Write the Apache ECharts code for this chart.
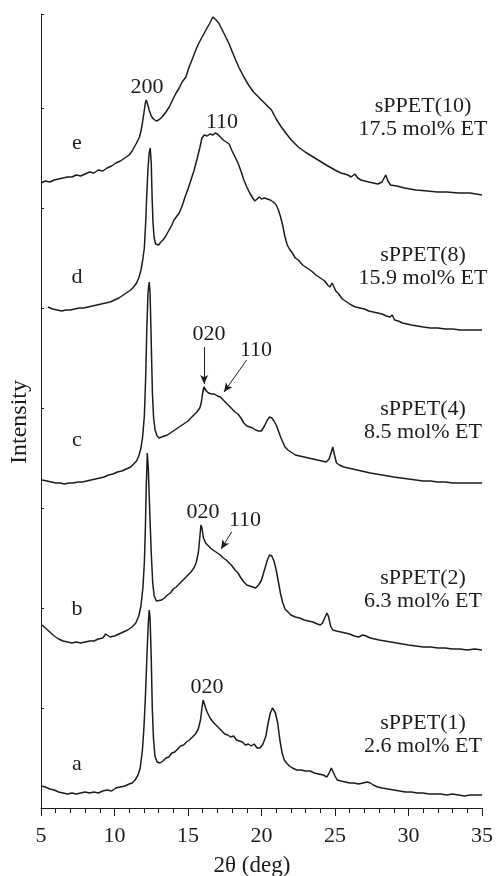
<!DOCTYPE html>
<html>
<head>
<meta charset="utf-8">
<script src="https://cdn.jsdelivr.net/npm/echarts@6/dist/echarts.min.js"></script>
<style>
  html, body { margin: 0; padding: 0; background: #fff; }
  #chart { width: 496px; height: 876px; }
</style>
</head>
<body>
<div id="chart"></div>
<script>
// XRD patterns, [2theta (deg), intensity (arb., curves offset)]
var curveA = [[5.0,22],[5.3,21],[5.6,19],[5.9,18],[6.2,16],[6.5,15],[6.8,14],[7.1,15],[7.4,14],[7.7,15],[8.0,16],[8.3,15],[8.6,16],[8.9,15],[9.2,17],[9.5,18],[9.8,17],[10.1,20],[10.4,21],[10.7,22],[11.0,24],[11.2,25],[11.4,28],[11.6,33],[11.75,40],[11.9,58],[12.0,80],[12.1,110],[12.2,150],[12.3,185],[12.36,198],[12.42,190],[12.5,150],[12.57,100],[12.65,70],[12.75,52],[12.9,46],[13.1,45],[13.3,47],[13.5,50],[13.7,51],[13.9,55],[14.1,56],[14.3,59],[14.5,62],[14.7,63],[14.9,66],[15.1,68],[15.3,71],[15.5,74],[15.7,79],[15.85,88],[15.95,100],[16.03,108],[16.1,107],[16.2,100],[16.3,96],[16.5,90],[16.7,86],[16.9,83],[17.1,80],[17.3,77],[17.5,74],[17.7,73],[17.9,71],[18.1,72],[18.3,68],[18.5,67],[18.7,66],[18.9,63],[19.1,64],[19.3,62],[19.5,64],[19.7,60],[19.9,60],[20.1,64],[20.3,72],[20.45,85],[20.6,95],[20.75,100],[20.85,100],[20.95,95],[21.1,85],[21.25,68],[21.4,55],[21.55,48],[21.7,45],[21.9,42],[22.1,40],[22.4,38],[22.7,38],[23.0,37],[23.3,37],[23.6,35],[23.9,34],[24.2,33],[24.45,31],[24.6,35],[24.75,40],[24.85,39],[25.0,32],[25.15,28],[25.4,27],[25.7,26],[26.0,25],[26.3,25],[26.6,24],[26.9,25],[27.2,26],[27.4,25],[27.6,23],[27.9,21],[28.2,20],[28.6,19],[29.0,18],[29.4,17],[29.8,16],[30.2,16],[30.6,15],[31.0,15],[31.4,14],[31.8,14],[32.2,14],[32.6,13],[33.0,14],[33.4,13],[33.8,12],[34.2,13],[34.6,13],[35.0,13]];

var curveB = [[5.07,183],[5.3,180],[5.6,176],[5.9,172],[6.2,169],[6.5,167],[6.8,166],[7.1,165],[7.4,166],[7.7,165],[8.0,166],[8.3,167],[8.6,167],[8.9,169],[9.2,170],[9.4,174],[9.5,173],[9.7,171],[10.0,172],[10.3,174],[10.6,176],[10.9,178],[11.2,181],[11.45,185],[11.65,192],[11.8,202],[11.93,220],[12.03,245],[12.1,280],[12.16,320],[12.23,355],[12.3,340],[12.4,295],[12.5,255],[12.6,225],[12.7,212],[12.85,207],[12.97,206],[13.2,208],[13.4,210],[13.6,213],[13.8,215],[14.0,219],[14.2,221],[14.4,224],[14.6,227],[14.8,230],[15.0,233],[15.2,236],[15.4,240],[15.55,245],[15.7,255],[15.8,270],[15.88,283],[15.95,280],[16.05,270],[16.2,265],[16.4,262],[16.6,259],[16.8,257],[17.0,255],[17.2,253],[17.4,250],[17.6,248],[17.8,245],[18.0,242],[18.2,238],[18.4,235],[18.6,230],[18.8,226],[19.0,223],[19.2,222],[19.4,221],[19.6,220],[19.8,223],[20.0,228],[20.2,238],[20.4,248],[20.55,253],[20.7,252],[20.85,247],[21.0,238],[21.15,226],[21.3,214],[21.45,205],[21.6,199],[21.8,196],[22.0,193],[22.3,191],[22.6,190],[22.9,188],[23.2,187],[23.5,186],[23.8,184],[24.0,183],[24.15,185],[24.3,190],[24.45,195],[24.55,192],[24.7,182],[24.85,178],[25.1,177],[25.4,176],[25.7,175],[26.0,174],[26.3,172],[26.6,171],[26.9,173],[27.1,172],[27.4,170],[27.7,169],[28.0,168],[28.4,167],[28.8,166],[29.2,165],[29.6,164],[30.0,163],[30.5,162],[31.0,161],[31.5,161],[32.0,160],[32.5,160],[33.0,159],[33.5,159],[34.0,158],[34.5,159],[35.0,158]];

var curveC = [[5.07,328],[5.4,327],[5.7,326],[6.0,325],[6.3,325],[6.6,324],[6.9,325],[7.2,325],[7.5,326],[7.8,326],[8.1,327],[8.4,328],[8.7,329],[9.0,330],[9.3,331],[9.6,333],[9.9,334],[10.2,336],[10.5,337],[10.8,339],[11.1,341],[11.3,344],[11.5,347],[11.65,352],[11.8,360],[11.92,372],[12.03,392],[12.12,430],[12.2,480],[12.28,515],[12.36,526],[12.42,515],[12.5,465],[12.58,415],[12.66,390],[12.76,378],[12.9,372],[13.04,370],[13.2,371],[13.4,372],[13.6,373],[13.8,375],[14.0,377],[14.2,379],[14.4,381],[14.6,383],[14.8,385],[15.0,387],[15.2,390],[15.4,393],[15.6,396],[15.8,400],[15.9,405],[16.0,415],[16.08,421],[16.15,420],[16.25,417],[16.4,415],[16.6,414],[16.8,414],[17.0,412],[17.2,411],[17.4,408],[17.6,405],[17.8,402],[18.0,399],[18.2,396],[18.4,394],[18.6,390],[18.8,385],[19.0,382],[19.2,381],[19.4,380],[19.6,378],[19.8,377],[20.0,377],[20.2,382],[20.4,388],[20.55,391],[20.7,390],[20.85,387],[21.0,383],[21.15,377],[21.3,371],[21.45,366],[21.6,361],[21.8,358],[22.0,356],[22.3,353],[22.6,352],[22.9,351],[23.2,350],[23.5,349],[23.8,348],[24.1,347],[24.4,346],[24.6,349],[24.75,356],[24.85,361],[24.95,354],[25.1,345],[25.3,343],[25.6,341],[25.9,340],[26.2,339],[26.5,338],[26.8,337],[27.1,336],[27.4,335],[27.8,334],[28.2,333],[28.6,332],[29.0,331],[29.5,330],[30.0,329],[30.5,328],[31.0,327],[31.5,327],[32.0,326],[32.5,326],[33.0,325],[33.5,325],[34.0,325],[34.5,325],[35.0,325]];

var curveD = [[5.47,501],[5.8,499],[6.1,498],[6.4,497],[6.7,498],[7.0,498],[7.3,499],[7.6,500],[7.9,500],[8.2,501],[8.5,502],[8.8,503],[9.1,504],[9.4,505],[9.7,506],[10.0,508],[10.3,510],[10.6,513],[10.9,516],[11.1,518],[11.3,521],[11.5,525],[11.65,530],[11.8,538],[11.92,548],[12.03,560],[12.12,585],[12.2,615],[12.28,640],[12.36,655],[12.43,660],[12.5,645],[12.56,610],[12.62,585],[12.7,570],[12.8,564],[12.9,562],[13.0,563],[13.15,566],[13.3,568],[13.45,571],[13.6,575],[13.75,579],[13.9,583],[14.05,588],[14.2,591],[14.4,595],[14.6,602],[14.8,611],[15.0,619],[15.2,628],[15.4,637],[15.6,648],[15.8,660],[15.95,670],[16.1,673],[16.3,672],[16.5,674],[16.7,673],[16.85,675],[17.0,674],[17.2,671],[17.4,668],[17.6,666],[17.8,664],[18.0,657],[18.2,651],[18.4,645],[18.6,637],[18.8,628],[19.0,621],[19.2,615],[19.4,610],[19.55,607],[19.7,609],[19.85,611],[20.0,609],[20.2,610],[20.4,609],[20.6,608],[20.8,606],[21.0,603],[21.15,598],[21.3,591],[21.45,582],[21.6,571],[21.75,563],[21.9,559],[22.1,555],[22.3,550],[22.5,548],[22.8,543],[23.1,540],[23.4,537],[23.7,533],[24.0,530],[24.3,527],[24.5,523],[24.65,521],[24.8,525],[24.9,522],[25.05,517],[25.2,515],[25.5,509],[25.8,506],[26.1,503],[26.4,501],[26.7,500],[27.0,499],[27.3,497],[27.6,496],[27.9,495],[28.2,494],[28.5,492],[28.75,491],[28.9,493],[29.05,488],[29.3,487],[29.6,485],[29.9,484],[30.2,483],[30.6,482],[31.0,481],[31.5,480],[32.0,480],[32.5,479],[33.0,479],[33.5,478],[34.0,478],[34.5,478],[35.0,478]];

var curveE = [[5.0,625],[5.3,627],[5.6,626],[5.9,628],[6.2,629],[6.5,630],[6.8,631],[7.1,631],[7.4,633],[7.7,632],[8.0,634],[8.3,636],[8.6,635],[8.9,638],[9.2,637],[9.5,640],[9.8,642],[10.1,645],[10.4,647],[10.7,650],[11.0,653],[11.2,657],[11.35,661],[11.5,665],[11.7,671],[11.8,677],[11.9,685],[12.0,695],[12.1,705],[12.16,708],[12.25,704],[12.36,698],[12.5,692],[12.65,689],[12.84,687],[13.0,688],[13.24,691],[13.5,696],[13.72,701],[13.95,708],[14.19,715],[14.4,720],[14.6,726],[14.86,731],[15.05,740],[15.27,748],[15.5,757],[15.74,765],[16.0,772],[16.22,778],[16.45,784],[16.69,791],[16.85,789],[17.09,785],[17.4,776],[17.77,765],[18.1,753],[18.45,741],[18.8,731],[19.12,723],[19.45,716],[19.8,711],[20.2,705],[20.68,698],[21.0,689],[21.35,681],[21.7,674],[22.03,668],[22.5,661],[22.97,656],[23.4,652],[23.85,648],[24.4,643],[25.0,638],[25.4,635],[25.88,633],[26.1,631],[26.35,634],[26.55,630],[26.76,628],[27.3,626],[27.91,624],[28.2,626],[28.45,633],[28.6,627],[28.78,623],[29.2,622],[29.73,620],[30.5,618],[31.3,617],[31.96,616],[32.6,616],[33.4,615],[34.19,615],[35.0,613]];

var curves = [curveE, curveD, curveC, curveB, curveA];
var curveLetters = ['e', 'd', 'c', 'b', 'a'];
var sampleNames = ['sPPET(10)', 'sPPET(8)', 'sPPET(4)', 'sPPET(2)', 'sPPET(1)'];
var etContent = ['17.5 mol% ET', '15.9 mol% ET', '8.5 mol% ET', '6.3 mol% ET', '2.6 mol% ET'];
var xTicks = [5, 10, 15, 20, 25, 30, 35];

var FONT = '"Liberation Serif", "Times New Roman", serif';
var INK = '#1c1c1c';

var chart = echarts.init(document.getElementById('chart'));

function txt(s, x, y, size, extra) {
  var el = {
    type: 'text', x: x, y: y, silent: true,
    style: { text: s, fontFamily: FONT, fontSize: size || 22, fill: INK,
             align: 'center', verticalAlign: 'middle', lineHeight: 23 }
  };
  if (extra) Object.assign(el, extra);
  return el;
}

var letterY = [143, 277, 440, 609, 764];
var sampleY = [118, 267, 421, 590, 735];
var graphics = [];
curveLetters.forEach(function (l, i) { graphics.push(txt(l, 77, letterY[i])); });
sampleNames.forEach(function (s, i) { graphics.push(txt(s + '\n' + etContent[i], 423, sampleY[i])); });
graphics.push(txt('200', 147, 87));
graphics.push(txt('110', 222, 122));
graphics.push(txt('020', 209, 334));
graphics.push(txt('110', 256, 350));
graphics.push(txt('020', 203, 512));
graphics.push(txt('110', 245, 520));
graphics.push(txt('020', 207, 687));
graphics.push(txt('Intensity', 20, 422, 24, { rotation: Math.PI / 2 }));
graphics.push(txt('2\u03b8 (deg)', 252, 866, 23));

var arrowStyle = { color: INK, width: 1, type: 'solid' };
var arrows = {
  2: [[{ coord: [16.1, 461] }, { coord: [16.1, 424] }],
      [{ coord: [18.99, 448] }, { coord: [17.45, 416] }]],
  3: [[{ coord: [17.97, 276] }, { coord: [17.25, 259] }]]
};

var series = curves.map(function (c, i) {
  var s = {
    type: 'line',
    data: c,
    showSymbol: false,
    symbol: 'none',
    lineStyle: { color: INK, width: 1.5 },
    silent: true
  };
  if (arrows[i]) {
    s.markLine = {
      silent: true,
      symbol: ['none', 'arrow'],
      symbolSize: [6, 9],
      label: { show: false },
      lineStyle: arrowStyle,
      data: arrows[i]
    };
  }
  return s;
});

chart.setOption({
  animation: false,
  backgroundColor: '#fff',
  grid: { left: 41, right: 11, top: 14, bottom: 68 },
  xAxis: {
    type: 'value',
    min: 5, max: 35, interval: 5,
    axisLine: { lineStyle: { color: INK, width: 1 } },
    axisTick: { inside: false, length: 8, lineStyle: { color: INK } },
    minorTick: { show: true, splitNumber: 5, length: 5, lineStyle: { color: INK } },
    splitLine: { show: false },
    axisLabel: {
      margin: 17, fontFamily: FONT, fontSize: 22, color: INK,
      formatter: function (v) { return xTicks.indexOf(v) >= 0 ? String(v) : ''; }
    }
  },
  yAxis: {
    type: 'value',
    min: 0, max: 794, interval: 100,
    axisLine: { show: true, lineStyle: { color: INK, width: 1 } },
    axisTick: { show: true, inside: true, length: 3, lineStyle: { color: INK } },
    axisLabel: { show: false },
    splitLine: { show: false }
  },
  series: series,
  graphic: graphics
});
</script>
</body>
</html>
